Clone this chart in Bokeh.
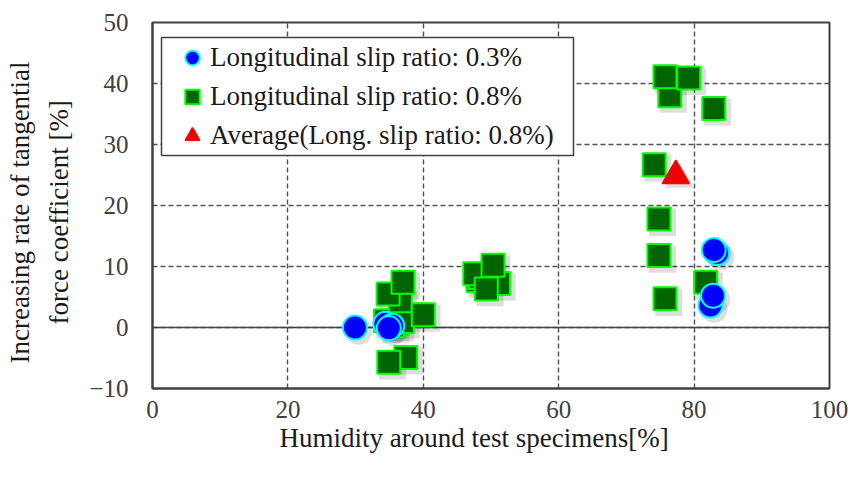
from bokeh.plotting import figure
from bokeh.models import Range1d, Span, BoxAnnotation, Legend, LegendItem, FixedTicker, Title
from bokeh.embed import file_html
from bokeh.resources import INLINE

# ---------------- data ----------------
x_ticks = [0, 20, 40, 60, 80, 100]
y_ticks = [-10, 0, 10, 20, 30, 40, 50]

slip03_humidity = [83.4, 82.9, 82.4, 82.8, 29.9, 34.4, 35.4, 34.9]
slip03_rate = [12.2, 12.7, 3.6, 5.2, 0.0, 0.6, 0.3, -0.1]

slip08_humidity = [34.4, 36.1, 35.4, 36.9, 36.6, 34.8, 37.0, 40.0, 37.4, 34.9,
                   51.1, 48.1, 48.4, 47.6, 50.3, 49.3,
                   76.4, 75.7, 79.2, 82.9, 74.1, 74.8, 74.8, 81.7, 75.7]
slip08_rate = [1.1, 0.6, 0.3, 1.0, 4.4, 5.5, 7.4, 2.1, -4.9, -5.7,
               7.2, 7.7, 8.2, 8.8, 10.2, 6.3,
               38.0, 41.1, 40.9, 35.9, 26.7, 17.8, 11.8, 7.4, 4.7]

avg_humidity = [77.3]
avg_rate = [24.9]

labels = ["Longitudinal slip ratio: 0.3%",
          "Longitudinal slip ratio: 0.8%",
          "Average(Long. slip ratio: 0.8%)"]
x_title = "Humidity around test specimens[%]"
y_title_lines = ["Increasing rate of tangential", "force coefficient [%]"]

# ---------------- figure ----------------
FONT = "Liberation Serif"
p = figure(width=855, height=479, x_range=Range1d(0, 100), y_range=Range1d(-10, 50),
           output_backend="svg", toolbar_location=None,
           min_border_left=152, min_border_right=26, min_border_top=22, min_border_bottom=91)
p.background_fill_color = "white"
p.border_fill_color = "white"
p.outline_line_color = "#404040"
p.outline_line_width = 2

for ax, ticks in ((p.xaxis, x_ticks), (p.yaxis, y_ticks)):
    ax.ticker = FixedTicker(ticks=ticks)
    ax.minor_tick_line_color = None
    ax.major_tick_in = 0
    ax.major_tick_out = 0
    ax.axis_line_color = "#404040"
    ax.axis_line_width = 2
    ax.major_label_text_font = FONT
    ax.major_label_text_font_size = "25px"
    ax.major_label_text_color = "#404040"

p.xaxis.major_label_standoff = 12
p.yaxis.major_label_standoff = 24

title_style = dict(text_font=FONT, text_font_size="27px", text_font_style="normal",
                   text_color="#1a1a1a")
p.add_layout(Title(text=x_title, align="left", offset=127, standoff=1, **title_style), "below")
# inner line first (closest to the axis), then the outer line
p.add_layout(Title(text=y_title_lines[1], align="left", offset=64, standoff=25, **title_style), "left")
p.add_layout(Title(text=y_title_lines[0], align="left", offset=25, standoff=-10, **title_style), "left")

p.xgrid.ticker = FixedTicker(ticks=x_ticks)
p.ygrid.ticker = FixedTicker(ticks=y_ticks)
for g in (p.xgrid, p.ygrid):
    g.grid_line_color = "#505050"
    g.grid_line_dash = "5 3"
    g.grid_line_width = 1.4

p.add_layout(Span(location=0, dimension="width", line_color="#404040",
                  line_width=1.6, level="underlay"))

# shadows (offset derived from the data points)
dx, dy = 0.55, -0.6
shadow = dict(fill_color="black", fill_alpha=0.13, line_color=None)
p.scatter([x + dx for x in slip08_humidity], [y + dy for y in slip08_rate],
          marker="square", size=27, **shadow)
p.scatter([x + dx for x in slip03_humidity], [y + dy for y in slip03_rate],
          marker="circle", size=27, **shadow)
p.scatter([x + dx for x in avg_humidity], [y + dy for y in avg_rate],
          marker="triangle", size=29, **shadow)

r08 = p.scatter(slip08_humidity, slip08_rate, marker="square", size=23,
                fill_color="#006400", line_color="#00FF00", line_width=2)
r03 = p.scatter(slip03_humidity, slip03_rate, marker="circle", size=24,
                fill_color="#0000FF", line_color="#00FFFF", line_width=2)
ravg = p.scatter(avg_humidity, avg_rate, marker="triangle", size=27,
                 fill_color="#EE0000", line_color="#FF0000", line_width=1.5)

# legend frame
box = BoxAnnotation(left=9, right=421, top=351, bottom=233,
                    left_units="screen", right_units="screen",
                    top_units="screen", bottom_units="screen",
                    fill_color="white", fill_alpha=1.0,
                    line_color="#404040", line_width=1.5, line_alpha=1.0)
p.add_layout(box)

legend = Legend(items=[LegendItem(label=labels[0], renderers=[r03]),
                       LegendItem(label=labels[1], renderers=[r08]),
                       LegendItem(label=labels[2], renderers=[ravg])],
                location=(22, 233), margin=0, padding=0, spacing=0,
                glyph_width=36, glyph_height=39, label_standoff=0,
                label_text_font=FONT, label_text_font_size="27px",
                label_text_color="#1a1a1a",
                background_fill_alpha=0, border_line_color=None)
p.add_layout(legend)

open("out.html", "w").write(file_html(p, INLINE))
